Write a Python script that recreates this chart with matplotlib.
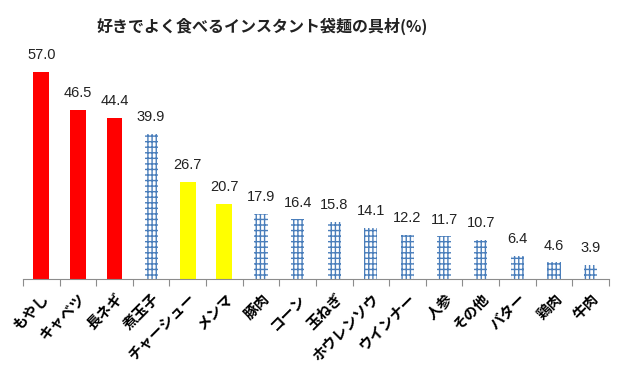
import matplotlib
matplotlib.use('Agg')
import matplotlib.pyplot as plt
import numpy as np

plt.rcParams['font.family'] = ['Noto Sans CJK JP', 'DejaVu Sans']
plt.rcParams['hatch.linewidth'] = 1.0

# data
categories = ['もやし', 'キャベツ', '長ネギ', '煮玉子', 'チャーシュー', 'メンマ', '豚肉', 'コーン',
              '玉ねぎ', 'ホウレンソウ', 'ウインナー', '人参', 'その他', 'バター', '鶏肉', '牛肉']
values = [57.0, 46.5, 44.4, 39.9, 26.7, 20.7, 17.9, 16.4, 15.8, 14.1, 12.2, 11.7, 10.7, 6.4, 4.6, 3.9]
styles = ['red', 'red', 'red', 'hatch', 'yellow', 'yellow', 'hatch', 'hatch',
          'hatch', 'hatch', 'hatch', 'hatch', 'hatch', 'hatch', 'hatch', 'hatch']

fig = plt.figure(figsize=(6.2, 3.71), dpi=100)
ax = fig.add_axes([0.037, 0.248, 0.945, 0.5876])

x = np.arange(len(categories))
for i, (v, s) in enumerate(zip(values, styles)):
    if s == 'red':
        ax.bar(i, v, width=0.43, color='#FF0000', linewidth=0)
    elif s == 'yellow':
        ax.bar(i, v, width=0.43, color='#FFFF00', linewidth=0)
    else:
        ax.bar(i, v, width=0.36, facecolor='white', edgecolor='#4A7EBB',
               hatch='||||---', linewidth=0)
    ax.annotate(f'{v:.1f}', (i, v), xytext=(0, 7), textcoords='offset points',
                ha='center', va='bottom', fontsize=10.5, color='#222222',
                family=['Liberation Sans', 'DejaVu Sans'])

ax.set_xlim(-0.5, len(categories) - 0.5)
ax.set_ylim(0, 60)
for side in ['top', 'right', 'left']:
    ax.spines[side].set_visible(False)
ax.spines['bottom'].set_color('#8C8C8C')
ax.set_yticks([])

ax.set_xticks(np.arange(-0.5, len(categories), 1.0))
ax.set_xticklabels([])
ax.set_xticks(x, minor=True)
ax.set_xticklabels(categories, minor=True, rotation=45, ha='right',
                   rotation_mode='anchor', fontsize=10.5, fontweight='bold')
ax.tick_params(axis='x', which='major', length=5, color='#8C8C8C', direction='out')
ax.tick_params(axis='x', which='minor', length=0, pad=8)

fig.text(0.423, 0.93, '好きでよく食べるインスタント袋麺の具材(%)', ha='center', va='center',
         fontsize=11.5, fontweight='bold', color='#222222')

fig.savefig('out.png', dpi=100)
